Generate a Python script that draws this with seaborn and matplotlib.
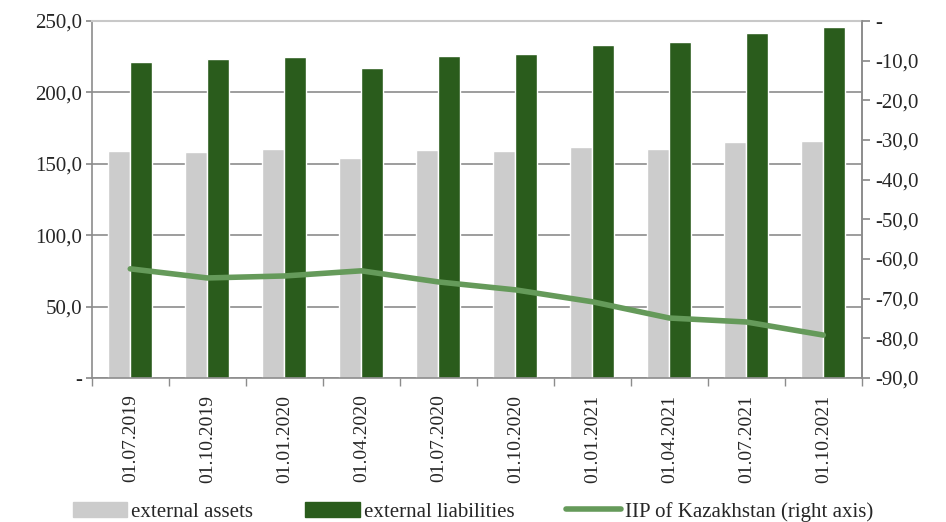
import numpy as np
import pandas as pd
import seaborn as sns
import matplotlib.pyplot as plt
from matplotlib.patches import Patch
from matplotlib.lines import Line2D

dates = ['01.07.2019', '01.10.2019', '01.01.2020', '01.04.2020', '01.07.2020',
         '01.10.2020', '01.01.2021', '01.04.2021', '01.07.2021', '01.10.2021']
assets = [159.0, 158.3, 160.4, 154.0, 159.7, 159.0, 161.8, 160.4, 165.3, 166.0]
liabilities = [221.3, 223.4, 224.8, 217.0, 225.5, 226.9, 233.0, 235.3, 241.6, 245.8]
iip = [-62.5, -64.8, -64.3, -63.0, -65.8, -67.8, -70.8, -74.9, -75.9, -79.2]

series_names = ['external assets', 'external liabilities', 'IIP of Kazakhstan (right axis)']

sns.set_theme(style='white')
plt.rcParams['font.family'] = ['Liberation Serif', 'DejaVu Serif']

df = pd.DataFrame({'date': dates * 2,
                   'value': assets + liabilities,
                   'series': [series_names[0]] * len(dates) + [series_names[1]] * len(dates)})

grey = '#CCCCCC'
dark = '#2A5C1C'
lgreen = '#659A5A'
axis_col = '#8C8C8C'

fig, ax = plt.subplots(figsize=(9.46, 5.22), dpi=100)
fig.subplots_adjust(left=0.097, right=0.911, top=0.96, bottom=0.276)

sns.barplot(data=df, x='date', y='value', hue='series', order=dates,
            palette=[grey, dark], width=0.57, ax=ax, legend=False, saturation=1)
ax.set_ylim(0, 250)
ax.set_xlim(-0.5, len(dates) - 0.5)
ax.set_yticks(np.arange(0, 251, 50))
ax.set_yticklabels(['-' if v == 0 else f'{v:.1f}'.replace('.', ',') for v in np.arange(0, 251, 50)])
ax.yaxis.grid(True, color=axis_col, linewidth=1.2)
ax.set_axisbelow(True)
ax.set_xlabel('')
ax.set_ylabel('')
ax.set_xticks(range(len(dates)))
ax.set_xticklabels(dates, rotation=90, fontsize=14)
ax.tick_params(axis='x', length=0, pad=12)
ax.set_xticks(np.arange(-0.5, len(dates), 1), minor=True)
ax.tick_params(axis='x', which='minor', length=6, color=axis_col, direction='out', bottom=True)
ax.tick_params(axis='y', length=4, color=axis_col, direction='out', left=True, labelsize=15, pad=3)
for s in ['left', 'bottom', 'right']:
    ax.spines[s].set_color(axis_col)
    ax.spines[s].set_linewidth(1.2)
ax.spines['top'].set_color('#C8C8C8')
ax.spines['top'].set_linewidth(1.5)

ax2 = ax.twinx()
sns.lineplot(x=np.arange(len(dates)), y=iip, ax=ax2, color=lgreen, linewidth=4)
ax2.set_ylim(-90, 0)
rt = np.arange(-90, 1, 10)
ax2.set_yticks(rt)
ax2.set_yticklabels(['-' if v == 0 else f'{v:.1f}'.replace('.', ',') for v in rt])
ax2.tick_params(axis='y', length=6, color=axis_col, direction='out', right=True, labelsize=15, pad=4)
ax2.spines['right'].set_color(axis_col)
ax2.spines['right'].set_linewidth(1.2)
for s in ['left', 'top', 'bottom']:
    ax2.spines[s].set_visible(False)
ax2.grid(False)

handles = [Patch(color=grey), Patch(color=dark), Line2D([], [], color=lgreen, linewidth=4)]
fig.legend(handles, series_names, loc='lower center', bbox_to_anchor=(0.5, -0.035), ncol=3,
           frameon=False, fontsize=15, columnspacing=2.5, handlelength=2.6, handletextpad=0.2)

fig.savefig('out.png', dpi=100)
